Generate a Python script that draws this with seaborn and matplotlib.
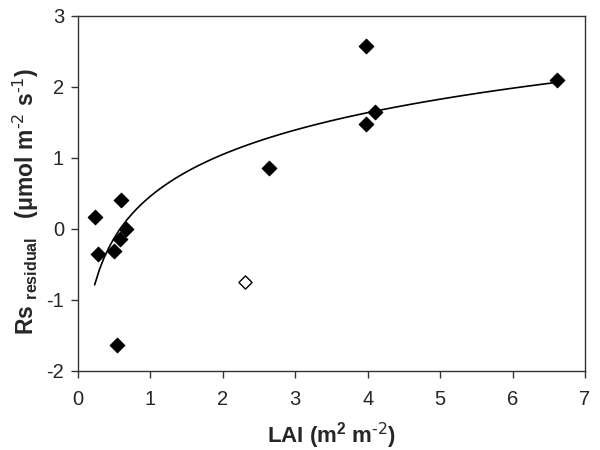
import pandas as pd
import seaborn as sns
import matplotlib
matplotlib.use('Agg')
import matplotlib.pyplot as plt

# filled points (used for the log fit)
lai = [0.23, 0.28, 0.60, 0.66, 0.575, 0.50, 0.54, 2.64, 3.98, 3.98, 4.10, 6.62]
rs_resid = [0.17, -0.36, 0.41, 0.00, -0.15, -0.31, -1.63, 0.85, 2.58, 1.48, 1.64, 2.10]

# open point (excluded from the fit)
lai_out = [2.30]
rs_out = [-0.75]

x_ticks = [0, 1, 2, 3, 4, 5, 6, 7]
y_ticks = [-2, -1, 0, 1, 2, 3]

sns.set_style('white')
plt.rcParams['font.family'] = ['Liberation Sans', 'DejaVu Sans']
plt.rcParams['mathtext.default'] = 'regular'
plt.rcParams['axes.unicode_minus'] = False

df = pd.DataFrame({'LAI': lai, 'Rs': rs_resid})
df_out = pd.DataFrame({'LAI': lai_out, 'Rs': rs_out})

fig = plt.figure(figsize=(6, 4.5), dpi=100)
ax = fig.add_axes([0.13, 0.176, 0.845, 0.789])

sns.regplot(data=df, x='LAI', y='Rs', logx=True, ci=None, scatter=False,
            color='black', line_kws={'linewidth': 1.2}, ax=ax)
sns.scatterplot(data=df, x='LAI', y='Rs', marker='D', s=55, color='black',
                edgecolor='black', linewidth=0.8, ax=ax, zorder=3)
sns.scatterplot(data=df_out, x='LAI', y='Rs', marker='D', s=45, color='white',
                edgecolor='black', linewidth=1.0, ax=ax, zorder=3)

ax.set_xlim(0, 7)
ax.set_ylim(-2, 3)
ax.set_xticks(x_ticks)
ax.set_yticks(y_ticks)
ax.tick_params(axis='both', which='both', direction='out', length=5, width=1,
               color='#333333', labelsize=14.5, bottom=True, left=True,
               top=False, right=False)
ax.tick_params(axis='x', pad=9)
ax.tick_params(axis='y', pad=5)
for sp in ax.spines.values():
    sp.set_color('#333333')
    sp.set_linewidth(1)

ax.set_xlabel(r'LAI (m$^{2}$ m$^{\text{-2}}$)', fontsize=16, fontweight='bold', labelpad=8)
ax.set_ylabel(r'Rs $_{\mathregular{residual}}$   (μmol m$^{\text{-2}}$ s$^{\text{-1}}$)',
              fontsize=16.5, fontweight='bold')
ax.yaxis.set_label_coords(-0.073, 0.476)

plt.savefig('out.png', dpi=100)
